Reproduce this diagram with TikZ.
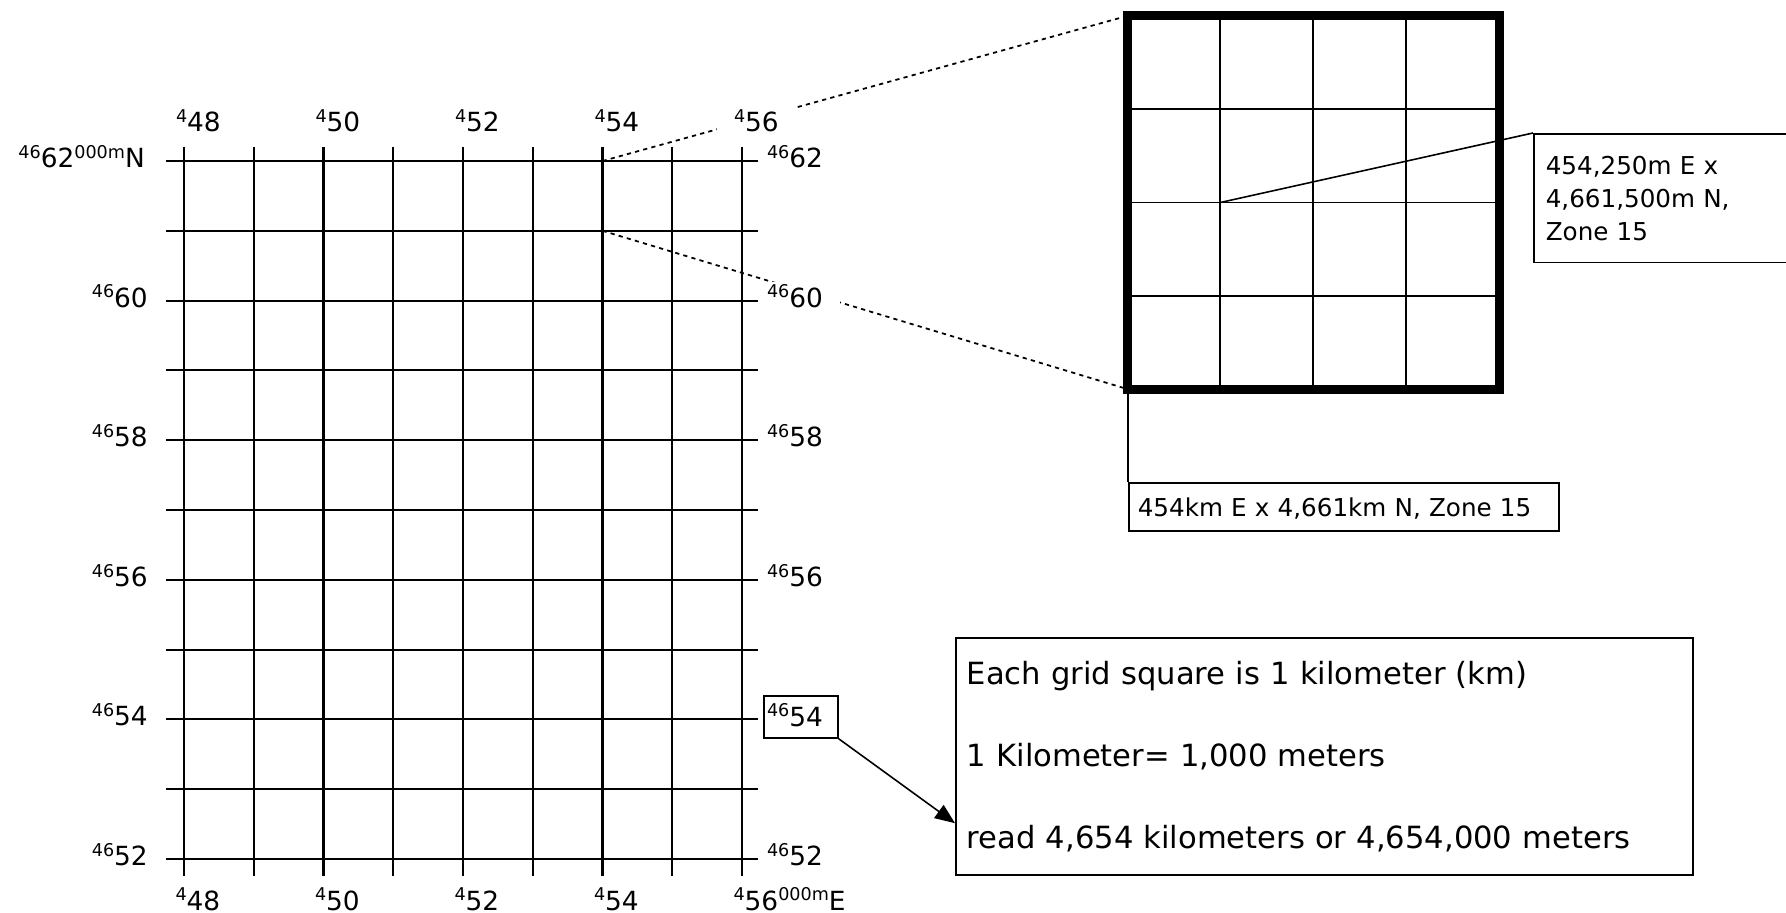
\documentclass[tikz,border=0pt]{standalone}
\usepackage{fontspec}
\setmainfont{DejaVu Sans}
\usetikzlibrary{arrows.meta,calc,positioning}
\newcommand{\supnum}[1]{\raisebox{2.6pt}{\fontsize{5}{6}\selectfont#1}}
\tikzset{
  grid line/.style={line width=0.6pt},
  zoom frame/.style={draw,line width=2.6pt,minimum width=3.715cm,minimum height=3.73cm,inner sep=0pt,outer sep=0pt},
  zoom line/.style={line width=0.5pt},
  grid label/.style={font=\fontsize{7.5}{9}\selectfont,anchor=text,fill=white,inner xsep=0.17cm,inner ysep=0.02cm,text height=0.23cm,text depth=0cm},
  side label/.style={grid label,anchor=base east,fill=none,inner xsep=1pt},
  note box/.style={draw,line width=0.45pt,anchor=north west,align=left,font=\fontsize{7}{9.4}\selectfont},
  lead/.style={line width=0.45pt},
  dot lead/.style={line width=0.5pt,dash pattern=on 1.2pt off 1.2pt},
}

\begin{document}
\begin{tikzpicture}[x=0.01cm,y=-0.01cm]
  \useasboundingbox (0,0) rectangle (1786,913);
  % enlarged square
  \node[zoom frame] (zoom) at (1313.25,202.5) {};
  \foreach \f in {0.25,0.5,0.75}{
    \draw[zoom line] ($(zoom.north west)!\f!(zoom.north east)$) -- ($(zoom.south west)!\f!(zoom.south east)$);
    \draw[zoom line] ($(zoom.north west)!\f!(zoom.south west)$) -- ($(zoom.north east)!\f!(zoom.south east)$);
  }
  \coordinate (zpt) at ($(zoom.west)!0.25!(zoom.east)$);
  \node[note box,inner xsep=0.12cm,inner ysep=0.22cm,text width=2.6cm] (utmbox) at (1533,133)
    {454,250m E x\\4,661,500m N,\\Zone 15};
  \draw[lead] (zpt) -- (utmbox.north west);
  \node[note box,inner xsep=0.09cm,inner ysep=0.12cm,text width=4.12cm,text height=0.22cm,text depth=0.02cm] (kmbox) at (1128,482)
    {454km E x 4,661km N, Zone 15};
  \draw[lead] (kmbox.north west) -- (kmbox.north west |- zoom.south);
  \node[note box,inner xsep=0.11cm,text width=7.15cm,minimum height=2.37cm,font=\fontsize{8.7}{23.3}\selectfont] (readbox) at (955,637)
    {Each grid square is 1 kilometer (km)\\1 Kilometer= 1,000 meters\\read 4,654 kilometers or 4,654,000 meters};
  % leads from the map square
  \coordinate (c54n62) at (602.5,161);
  \coordinate (c54n61) at (602.5,230.8);
  \draw[dot lead] (c54n62) -- (zoom.north west);
  \draw[dot lead] (c54n61) -- (zoom.south west);
  % easting labels
  \foreach \e [count=\j from 0] in {48,50,52,54,56}{
    \node[grid label] (top\e) at ({176+139.5*\j},132) {\supnum{4}\e};
  }
  \foreach \e [count=\j from 0] in {48,50,52,54}{
    \node[grid label] (bot\e) at ({175.5+139.5*\j},910) {\supnum{4}\e};
  }
  \node[grid label] (bot56) at (733.5,910) {\supnum{4}56\supnum{000m}E};
  % northing labels
  \node[side label] (left62) at (149,168) {\supnum{46}62\supnum{000m}N};
  \foreach \n [count=\k from 1] in {60,58,56,54,52}{
    \node[side label] (left\n) at (152,{167.5+139.6*\k}) {\supnum{46}\n};
  }
  \foreach \n [count=\k from 0] in {62,60,58,56,52}{
    \pgfmathsetmacro{\yy}{\n==52 ? 865.5 : 167.5+139.6*\k}
    \node[grid label] (right\n) at (767,\yy) {\supnum{46}\n};
  }
  \node[grid label,draw,line width=0.45pt,inner xsep=0.03cm,inner ysep=0.07cm,text depth=0.05cm] (right54) at (767,726) {\supnum{46}54\kern0.12cm};
  \draw[lead,-{Triangle[length=0.2cm,width=0.16cm]}] (right54.south east) -- ($(readbox.south west)!0.22!(readbox.north west)$);
  % the map grid
  \foreach \j in {0,...,8}{
    \draw[grid line] ({184+69.75*\j},147) -- ({184+69.75*\j},876);
  }
  \foreach \k in {0,...,10}{
    \draw[grid line] (166,{161+69.8*\k}) -- (758,{161+69.8*\k});
  }
\end{tikzpicture}
\end{document}
